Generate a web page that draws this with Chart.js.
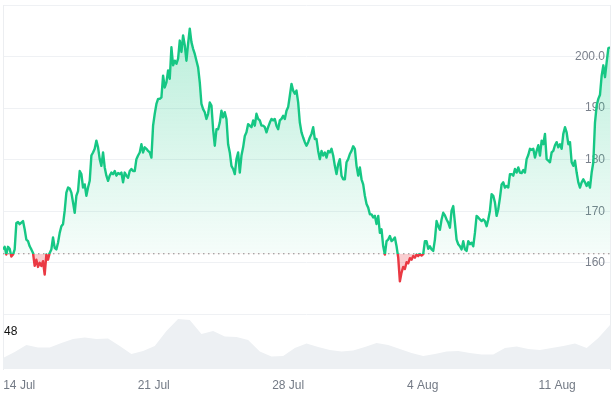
<!DOCTYPE html>
<html>
<head>
<meta charset="utf-8">
<script src="https://cdn.jsdelivr.net/npm/chart.js@4.4.1/dist/chart.umd.min.js"></script>
<style>
  html, body { margin: 0; padding: 0; background: #fff; }
  #wrap { width: 615px; height: 396px; position: relative; }
</style>
</head>
<body>
<div id="wrap"><canvas id="chart"></canvas></div>
<script>
// hours relative to 14 Jul 00:00
const startHour = -20.25;
const stepHours = 2.083;

const prices = [
  162.6, 163.1, 161.6, 163.1, 162.7, 161.2, 161.6, 162.6, 167.7, 167.9,
  167.5, 167.8, 168.1, 166.5, 164.5, 164.2, 163.2, 162.6, 161.9, 159.4,
  160.6, 159.2, 160.0, 159.4, 160.3, 157.7, 161.6, 160.6, 161.9, 162.6,
  164.9, 162.9, 162.6, 163.9, 165.8, 167.1, 167.5, 170.1, 173.6, 174.6,
  174.4, 173.6, 171.7, 169.7, 173.0, 173.9, 177.8, 177.2, 174.6, 175.2,
  173.0, 174.6, 175.9, 180.8, 181.4, 182.1, 183.7, 182.4, 180.1, 178.8,
  181.4, 178.5, 176.9, 175.9, 176.9, 177.5, 177.2, 177.8, 176.9, 177.4,
  177.2, 177.5, 175.6, 177.5, 176.9, 176.5, 177.8, 178.2, 177.8, 177.8,
  180.1, 180.8, 181.4, 183.0, 181.4, 182.4, 182.1, 181.7, 181.4, 180.4,
  186.6, 188.9, 190.8, 191.8, 191.8, 192.1,
  196.3, 194.0, 195.0, 197.3, 195.7, 201.8, 198.3, 199.2, 198.6, 199.6,
  203.1, 200.9, 204.1, 202.2, 199.2, 202.5, 205.4, 202.8, 201.5, 200.5,
  199.2, 197.9, 195.0, 190.8, 189.8, 189.2, 187.9, 188.9, 191.1, 190.5,
  185.9, 182.7, 185.9, 185.9, 187.2, 189.5, 188.2, 189.2, 187.9, 183.0,
  181.4, 178.8, 178.2, 177.2, 180.1, 181.4, 177.5, 180.8, 182.4, 184.6,
  185.3, 186.9, 186.6, 186.3, 187.6, 186.6, 188.9, 187.9, 187.6, 186.6,
  186.6, 186.3, 185.3, 186.3, 187.2, 187.9, 187.6, 187.9, 186.6, 185.9,
  187.6, 187.9, 188.5, 187.9, 189.5, 190.2, 192.4, 194.7, 193.4, 192.8,
  193.4, 191.1, 187.2, 185.3, 184.3, 183.4, 182.7, 183.4,
  184.3, 185.0, 186.3, 184.0, 184.0, 181.7, 180.1, 181.7, 180.8, 181.4,
  180.4, 181.7, 181.4, 182.1, 180.8, 178.8, 177.2, 179.1, 180.1, 176.9,
  176.2, 176.2, 179.5, 180.1, 181.1, 181.7, 182.6, 182.1, 178.8, 176.9,
  178.5, 176.2, 175.2, 173.0, 171.4, 170.7, 169.4, 169.4, 168.8, 169.1,
  167.5, 169.1, 165.8, 166.5, 163.2, 161.6, 164.2, 164.5, 165.2, 164.2,
  164.5, 164.9, 163.2, 161.0, 156.4, 158.1, 159.2, 158.8, 160.1, 159.9,
  160.9, 160.6, 161.3, 161.0, 161.6, 161.3, 161.7, 161.4, 161.7, 164.2,
  164.2, 162.7, 163.2, 162.6, 162.3, 164.5, 168.1, 167.1, 166.4, 168.4,
  169.7, 169.2, 168.4, 167.8, 166.8, 170.1, 171.0, 167.8, 164.5, 163.6,
  163.2, 162.6, 164.2, 162.6, 162.3, 164.2, 163.6, 163.9, 163.2, 165.8,
  169.1, 168.8, 168.4, 168.1, 168.4, 168.1, 167.1, 168.4, 170.1, 173.3,
  173.0, 171.7, 169.1, 170.4, 172.6, 175.2, 175.6, 174.6, 174.9, 174.6,
  177.2, 177.2, 176.9, 178.2, 177.5, 178.5, 177.5, 177.4, 178.0, 177.5,
  180.1, 180.9, 182.1, 181.9, 182.1, 180.4, 181.7, 182.8, 180.8, 183.7,
  183.0, 185.0, 180.1, 179.8, 179.5, 181.4, 181.7, 182.8, 183.4, 182.4,
  183.0, 182.1, 185.0, 186.3, 185.3, 183.0, 183.4, 179.5, 178.8, 179.8,
  177.5, 175.6, 174.6, 175.6, 176.2, 175.6, 174.9, 175.6, 174.6, 177.5,
  179.5, 187.2, 190.5, 191.8, 192.6, 196.3, 198.3, 196.0, 198.9, 201.6,
  201.8
];

// one volume reading every 7 price points
const volumeEvery = 7;
const volumes = [
  14.3, 22.0, 31.1, 27.9, 27.9, 33.7, 38.9, 40.9, 38.9, 39.6,
  29.8, 19.5, 23.3, 29.8, 49.3, 64.9, 63.6, 45.4, 49.3, 42.2,
  41.5, 37.6, 22.6, 16.2, 16.9, 27.2, 33.1, 28.5, 24.6, 22.7,
  24.0, 28.5, 33.7, 31.1, 25.9, 20.8, 16.9, 19.5, 22.7, 23.3,
  20.8, 18.8, 18.8, 27.2, 29.2, 25.9, 24.6, 27.2, 29.8, 33.1,
  27.2, 40.2, 57.1
];

const baselinePrice = 161.75;

const dateTickHours = [0, 168, 336, 504, 672];
const dateTickLabels = ["14 Jul", "21 Jul", "28 Jul", "4 Aug", "11 Aug"];
const priceTicks = [150, 160, 170, 180, 190, 200, 210];
const priceTickLabels = ["", "160", "170", "180", "190", "200.0", ""];
const volumeTicks = [48];
const volumeTickLabels = ["48"];

const GREEN = "#16c784";
const RED = "#ea3943";
const FONT = "'Liberation Sans', Arial, sans-serif";

const endHour = startHour + (prices.length - 1) * stepHours;
const pricePoints = prices.map((p, i) => ({ x: startHour + i * stepHours, y: p }));
const volumePoints = volumes.map((v, i) => ({ x: startHour + i * volumeEvery * stepHours, y: v }));
const basePoints = [{ x: startHour, y: baselinePrice }, { x: endHour, y: baselinePrice }];

function priceStroke(context) {
  const chart = context.chart;
  if (!chart.chartArea) return GREEN;
  const area = chart.chartArea;
  const yb = chart.scales.y.getPixelForValue(baselinePrice);
  const f = Math.min(1, Math.max(0, (yb - area.top) / (area.bottom - area.top)));
  const g = chart.ctx.createLinearGradient(0, area.top, 0, area.bottom);
  g.addColorStop(0, GREEN);
  g.addColorStop(f, GREEN);
  g.addColorStop(f, RED);
  g.addColorStop(1, RED);
  return g;
}

function priceFill(context) {
  const chart = context.chart;
  if (!chart.chartArea) return "rgba(22,199,132,0.15)";
  const area = chart.chartArea;
  const yb = chart.scales.y.getPixelForValue(baselinePrice);
  const g = chart.ctx.createLinearGradient(0, area.top, 0, yb);
  g.addColorStop(0, "rgba(22,199,132,0.32)");
  g.addColorStop(1, "rgba(22,199,132,0.04)");
  return g;
}

// keep the plot box fixed: no automatic label padding around it
function noPadding(axis) {
  axis.paddingTop = 0;
  axis.paddingBottom = 0;
  axis.paddingLeft = 0;
  axis.paddingRight = 0;
  if (axis.isHorizontal()) axis.height = 24;
  else axis.width = 0;
}

new Chart(document.getElementById("chart"), {
  type: "line",
  data: {
    datasets: [
      {
        data: pricePoints,
        yAxisID: "y",
        borderColor: priceStroke,
        backgroundColor: priceFill,
        borderWidth: 2.4,
        borderJoinStyle: "round",
        pointRadius: 0,
        tension: 0,
        fill: { target: { value: baselinePrice }, below: "rgba(234,57,67,0.25)" },
      },
      {
        data: basePoints,
        yAxisID: "y",
        borderColor: "#8c8c8c",
        borderWidth: 1,
        borderDash: [1.5, 3.5],
        pointRadius: 0,
        fill: false,
      },
      {
        data: volumePoints,
        yAxisID: "yv",
        borderWidth: 0,
        backgroundColor: "#edf0f3",
        pointRadius: 0,
        fill: "origin",
      },
    ],
  },
  options: {
    responsive: true,
    maintainAspectRatio: false,
    animation: false,
    devicePixelRatio: 1,
    layout: { padding: { left: 3, right: 5, top: 5, bottom: 3 } },
    plugins: {
      legend: { display: false },
      tooltip: { enabled: false },
    },
    scales: {
      x: {
        type: "linear",
        min: startHour,
        max: endHour,
        afterBuildTicks: (axis) => {
          axis.ticks = dateTickHours.map((v) => ({ value: v }));
        },
        afterFit: noPadding,
        ticks: {
          autoSkip: false,
          maxRotation: 0,
          padding: 9,
          color: "#737a85",
          font: { family: FONT, size: 12 },
          callback: (v) => dateTickLabels[dateTickHours.indexOf(v)],
        },
        grid: { display: false, drawTicks: false },
        border: { display: false },
      },
      y: {
        position: "right",
        min: 139.4,
        max: 210,
        afterBuildTicks: (axis) => {
          axis.ticks = priceTicks.map((v) => ({ value: v }));
        },
        afterFit: noPadding,
        ticks: {
          mirror: true,
          padding: -5,
          color: "#7b818c",
          font: { family: FONT, size: 12 },
          callback: (v) => priceTickLabels[priceTicks.indexOf(v)],
        },
        grid: { color: "#eff1f4", drawTicks: false },
        border: { display: true, color: "#eceef1" },
      },
      yv: {
        position: "left",
        min: 0,
        max: 472,
        afterBuildTicks: (axis) => {
          axis.ticks = volumeTicks.map((v) => ({ value: v }));
        },
        afterFit: noPadding,
        ticks: {
          mirror: true,
          padding: 1,
          color: "#111",
          font: { family: FONT, size: 12 },
          callback: (v) => volumeTickLabels[volumeTicks.indexOf(v)],
        },
        grid: { display: false, drawTicks: false },
        border: { display: true, color: "#eceef1" },
      },
    },
  },
});
</script>
</body>
</html>
